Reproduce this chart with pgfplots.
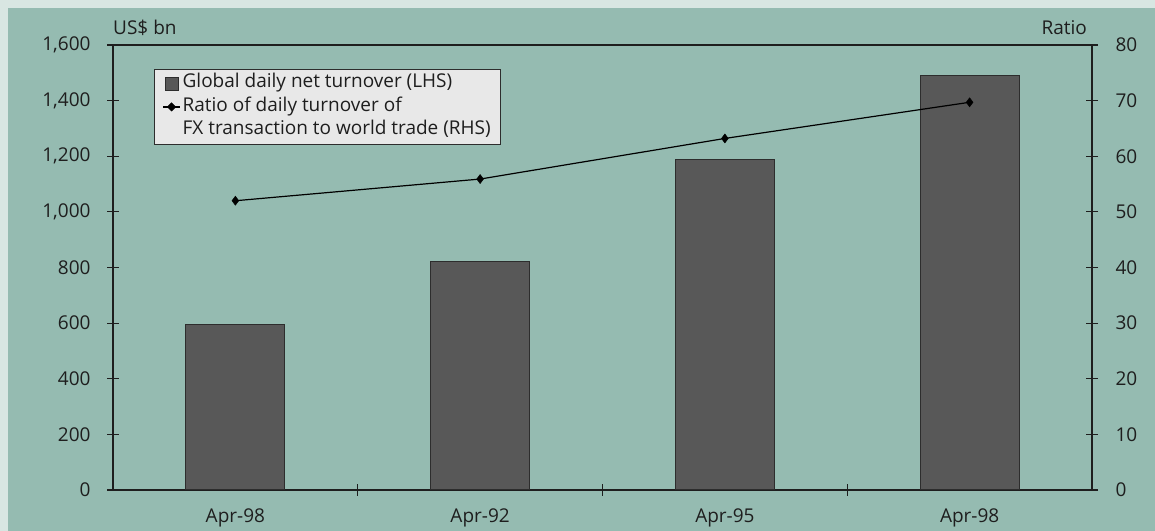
\documentclass[border=0pt]{standalone}
\usepackage{fontspec}
\setmainfont{Open Sans}
\usepackage{pgfplots}
\pgfplotsset{compat=1.18}

\definecolor{outerbg}{RGB}{216,230,226}
\definecolor{panel}{RGB}{149,187,177}
\definecolor{barfill}{RGB}{88,88,88}
\definecolor{barline}{RGB}{45,45,45}
\definecolor{legfill}{RGB}{232,232,232}
\definecolor{txt}{RGB}{30,30,30}

\newcommand{\chartfont}{\fontsize{19bp}{23.5bp}\selectfont}

\pgfplotstableread{
x turnover
0 594
1 821
2 1188
3 1490
}\turnover

\pgfplotstableread{
x ratio
0 52.0
1 55.9
2 63.2
3 69.7
}\ratio

\pgfplotsset{
  base/.style={
    at={(113bp,41bp)}, anchor=south west,
    scale only axis, width=979bp, height=445bp,
    xmin=-0.5, xmax=3.5,
    clip=false,
    font=\chartfont,
    /pgf/number format/assume math mode=true,
    tick align=center,
    major tick length=12bp,
    axis line style={line width=1.2bp, draw=txt},
    tick style={line width=1.2bp, draw=txt},
    ticklabel style={text=txt},
  },
}

\begin{document}
\begin{tikzpicture}[x=1bp,y=1bp]
\fill[outerbg] (0,0) rectangle (1155,531);
\fill[panel] (8,0) rectangle (1155,523);

% Left axis: daily turnover bars
\begin{axis}[base,
  ymin=0, ymax=1600,
  ytick={0,200,...,1600},
  /pgf/number format/1000 sep={,},
  xtick={0,1,2,3},
  xticklabels={Apr-98,Apr-92,Apr-95,Apr-98},
  minor xtick={0.5,1.5,2.5},
  major x tick style={draw=none},
  minor tick length=12bp,
  xtick pos=bottom, ytick pos=left,
  yticklabel style={xshift=-13bp},
  xticklabel style={yshift=-9bp},
  legend style={at={(0.0419,0.946)}, anchor=north west,
    fill=legfill, draw=barline, line width=0.8bp,
    font=\chartfont, text=txt,
    nodes={text height=13.5bp, text depth=4.5bp, inner ysep=3bp},
    inner xsep=8bp, inner ysep=2bp,
    row sep=-0.5bp},
  legend cell align=left,
]
\addplot[ybar, bar width=99bp, fill=barfill, draw=barline, line width=1bp,
  legend image code/.code={\draw[fill=barfill,draw=barline,line width=0.8bp] (2bp,-6.5bp) rectangle (15bp,6.5bp);}]
  table[x=x,y=turnover] {\turnover};
\addlegendentry{Global daily net turnover (LHS)}
\addlegendimage{legend image code/.code={
  \draw[black,line width=1.2bp] (0bp,0bp) -- (17bp,0bp);
  \fill[black] (8.5bp,0bp) +(-4bp,0) -- +(0,4bp) -- +(4bp,0) -- +(0,-4bp) -- cycle;}}
\addlegendentry{Ratio of daily turnover of}
\addlegendimage{empty legend}
\addlegendentry{FX transaction to world trade (RHS)}
\node[anchor=west, inner sep=0, text=txt, font=\chartfont]
  at (rel axis cs:0,1) [yshift=17bp] {US\$ bn};
\end{axis}

% Right axis: ratio line
\begin{axis}[base,
  ymin=0, ymax=80,
  ytick={0,10,...,80},
  axis y line*=right,
  axis x line=none,
  ytick pos=right,
  yticklabel style={xshift=14bp},
]
\addplot[black, line width=1.2bp, mark=diamond*, mark size=4.5bp,
  mark options={fill=black, line width=0.5bp}]
  table[x=x,y=ratio] {\ratio};
\node[anchor=east, inner sep=0, text=txt, font=\chartfont]
  at (rel axis cs:1,1) [yshift=17bp, xshift=-5bp] {Ratio};
\end{axis}
\end{tikzpicture}
\end{document}
